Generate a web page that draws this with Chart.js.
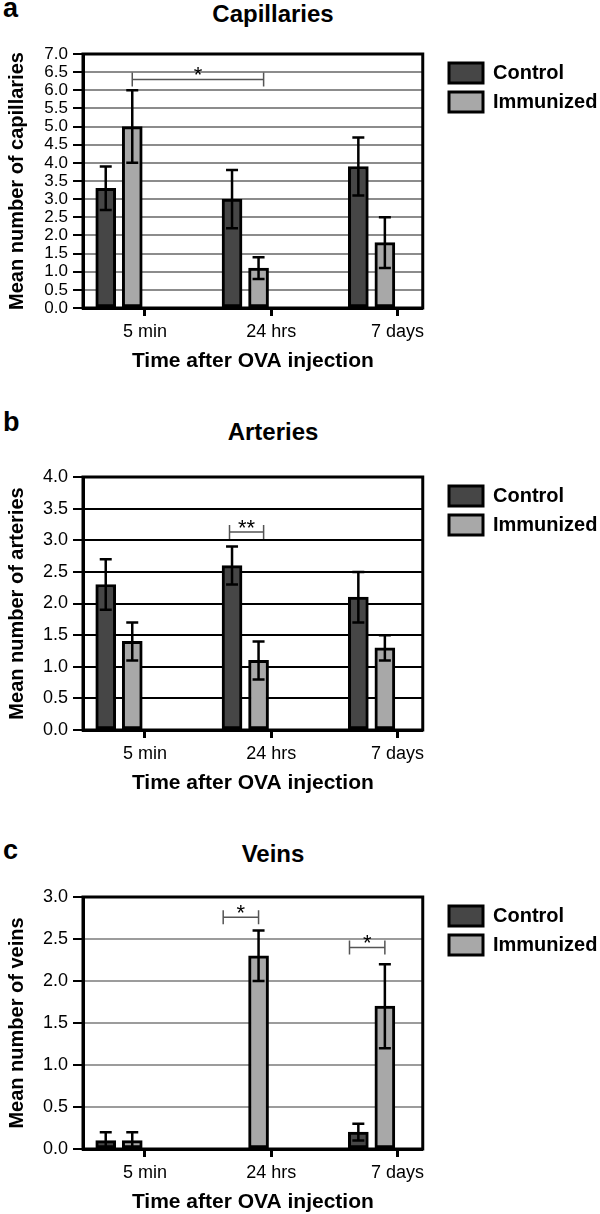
<!DOCTYPE html>
<html lang="en">
<head>
<meta charset="UTF-8">
<title>Capillaries, arteries and veins after OVA injection</title>
<style>
    body { margin: 0; background: #fff; font-family: "Liberation Sans", Arial, sans-serif; color: #000; }
    .page { position: relative; width: 600px; height: 1214px; overflow: hidden; }
    .letter { position: absolute; left: 3px; font-size: 27px; font-weight: bold; line-height: 27px; }
    .title { position: absolute; left: 163px; width: 220px; text-align: center; font-size: 24px; font-weight: bold; line-height: 24px; }
    canvas { position: absolute; left: 0; }
</style>
</head>
<body>
<div class="page">
    <div class="letter" style="top:-5px">a</div>
    <div class="title" style="top:2px">Capillaries</div>
    <canvas id="capChart" width="600" height="390" style="top:0px"></canvas>

    <div class="letter" style="top:409px">b</div>
    <div class="title" style="top:420px">Arteries</div>
    <canvas id="artChart" width="600" height="420" style="top:390px"></canvas>

    <div class="letter" style="top:837px">c</div>
    <div class="title" style="top:842px">Veins</div>
    <canvas id="veinChart" width="600" height="404" style="top:810px"></canvas>
</div>

<script src="https://cdn.jsdelivr.net/npm/chart.js"></script>
<script>
// categories and series
const categories = ['5 min', '24 hrs', '7 days'];
const seriesNames = ['Control', 'Immunized'];

// a - capillaries (mean and error)
const capControl = [3.3, 3.0, 3.9];
const capControlErr = [0.6, 0.8, 0.8];
const capImmunized = [5.0, 1.1, 1.8];
const capImmunizedErr = [1.0, 0.3, 0.7];

// b - arteries
const artControl = [2.3, 2.6, 2.1];
const artControlErr = [0.4, 0.3, 0.4];
const artImmunized = [1.4, 1.1, 1.3];
const artImmunizedErr = [0.3, 0.3, 0.2];

// c - veins
const veinControl = [0.1, 0, 0.2];
const veinControlErr = [0.1, 0, 0.1];
const veinImmunized = [0.1, 2.3, 1.7];
const veinImmunizedErr = [0.1, 0.3, 0.5];

// significance brackets (x in category units, level in y units)
const capSignificance = [{ from: -0.1, to: 0.94, level: 6.3, label: '*' }];
const artSignificance = [{ from: 0.67, to: 0.94, level: 3.13, label: '**' }];
const veinSignificance = [
    { from: 0.62, to: 0.9, level: 2.76, label: '*' },
    { from: 1.62, to: 1.9, level: 2.40, label: '*' }
];

// bars sit to the left of each category tick, like in the original figure
const controlOffset = -0.31;
const immunizedOffset = -0.10;

Chart.defaults.font.family = '"Liberation Sans", Arial, sans-serif';
Chart.defaults.color = '#000';

function toPoints(values, offset) {
    return values.map((v, i) => ({ x: i + offset, y: v }));
}

function makeChart(canvasId, cfg) {
    const errors = [cfg.controlErr, cfg.immunizedErr];

    const plugins = [{
        // move the legend a bit away from the plot and let it use the full width
        id: 'legendShift',
        beforeDraw(chart) {
            chart.legend.left = 440;
            chart.legend.right = 600;
        }
    }, {
        id: 'errorBars',
        afterDatasetsDraw(chart) {
            const ctx = chart.ctx;
            const ys = chart.scales.y;
            ctx.save();
            ctx.strokeStyle = '#000';
            ctx.lineWidth = 2.5;
            chart.data.datasets.forEach((ds, d) => {
                const meta = chart.getDatasetMeta(d);
                ds.data.forEach((pt, i) => {
                    const e = errors[d][i];
                    if (!e) return;
                    const x = meta.data[i].x;
                    const top = ys.getPixelForValue(pt.y + e);
                    const bot = ys.getPixelForValue(Math.max(0, pt.y - e));
                    ctx.beginPath();
                    ctx.moveTo(x, top); ctx.lineTo(x, bot);
                    ctx.moveTo(x - 6, top); ctx.lineTo(x + 6, top);
                    ctx.moveTo(x - 6, bot); ctx.lineTo(x + 6, bot);
                    ctx.stroke();
                });
            });
            ctx.restore();
        }
    }, {
        id: 'frameAndBrackets',
        afterDraw(chart) {
            const ctx = chart.ctx;
            const a = chart.chartArea;
            const xs = chart.scales.x, ys = chart.scales.y;
            ctx.save();
            // box round the plot
            ctx.strokeStyle = '#000';
            ctx.lineWidth = 3;
            ctx.strokeRect(a.left, a.top, a.right - a.left, a.bottom - a.top);
            // significance brackets
            cfg.significance.forEach(b => {
                const x0 = xs.getPixelForValue(b.from);
                const x1 = xs.getPixelForValue(b.to);
                const y = ys.getPixelForValue(b.level);
                ctx.strokeStyle = '#555';
                ctx.lineWidth = 1.5;
                ctx.beginPath();
                ctx.moveTo(x0, y); ctx.lineTo(x1, y);
                ctx.moveTo(x0, y - 7); ctx.lineTo(x0, y + 7);
                ctx.moveTo(x1, y - 7); ctx.lineTo(x1, y + 7);
                ctx.stroke();
                ctx.fillStyle = '#000';
                ctx.font = '22px "Liberation Sans", Arial, sans-serif';
                ctx.textAlign = 'center';
                ctx.textBaseline = 'alphabetic';
                ctx.fillText(b.label, (x0 + x1) / 2, y + 3);
            });
            ctx.restore();
        }
    }];

    return new Chart(document.getElementById(canvasId), {
        type: 'bar',
        data: {
            datasets: [{
                label: seriesNames[0],
                data: toPoints(cfg.control, controlOffset),
                backgroundColor: '#464646',
                borderColor: '#000',
                borderWidth: 3,
                borderSkipped: false,
                grouped: false,
                barThickness: 20,
                maxBarThickness: 20
            }, {
                label: seriesNames[1],
                data: toPoints(cfg.immunized, immunizedOffset),
                backgroundColor: '#a8a8a8',
                borderColor: '#000',
                borderWidth: 3,
                borderSkipped: false,
                grouped: false,
                barThickness: 20,
                maxBarThickness: 20
            }]
        },
        options: {
            responsive: false,
            animation: false,
            layout: { padding: { top: cfg.padTop, bottom: cfg.padBottom, left: 5, right: 38 } },
            plugins: {
                tooltip: { enabled: false },
                legend: {
                    position: 'right',
                    align: 'start',
                    labels: {
                        boxWidth: 34,
                        boxHeight: 20,
                        padding: 9,
                        color: '#000',
                        font: { size: 20, weight: 'bold' }
                    }
                }
            },
            scales: {
                x: {
                    type: 'linear',
                    min: -0.49,
                    max: 2.2,
                    offset: false,
                    afterBuildTicks: s => { s.ticks = categories.map((c, i) => ({ value: i })); },
                    afterFit: s => { s.height = 64; },
                    ticks: {
                        callback: v => categories[v],
                        font: { size: 18 },
                        color: '#000',
                        padding: 5,
                        maxRotation: 0,
                        autoSkip: false
                    },
                    grid: { drawOnChartArea: false, offset: false, tickLength: 8, tickWidth: 3, tickColor: '#000' },
                    border: { width: 3, color: '#000' },
                    title: {
                        display: true,
                        text: 'Time after OVA injection',
                        color: '#000',
                        padding: 0,
                        font: { size: 21, weight: 'bold', lineHeight: 1 }
                    }
                },
                y: {
                    min: 0,
                    max: cfg.yMax,
                    afterFit: s => { s.width = 78; },
                    ticks: {
                        stepSize: 0.5,
                        autoSkip: false,
                        callback: v => v.toFixed(1),
                        font: { size: cfg.tickSize },
                        color: '#000',
                        padding: 5
                    },
                    grid: { color: cfg.gridColor, lineWidth: 2, tickLength: 10, tickWidth: 2, tickColor: '#000' },
                    border: { width: 3, color: '#000' },
                    title: {
                        display: true,
                        text: cfg.yTitle,
                        color: '#000',
                        padding: 0,
                        font: { size: 20, weight: 'bold', lineHeight: 1.2 }
                    }
                }
            }
        },
        plugins: plugins
    });
}

makeChart('capChart', {
    control: capControl, controlErr: capControlErr,
    immunized: capImmunized, immunizedErr: capImmunizedErr,
    significance: capSignificance,
    yMax: 7, yTitle: 'Mean number of capillaries',
    gridColor: '#8c8c8c', tickSize: 17,
    padTop: 54, padBottom: 18
});

makeChart('artChart', {
    control: artControl, controlErr: artControlErr,
    immunized: artImmunized, immunizedErr: artImmunizedErr,
    significance: artSignificance,
    yMax: 4, yTitle: 'Mean number of arteries',
    gridColor: '#000', tickSize: 18,
    padTop: 87, padBottom: 16
});

makeChart('veinChart', {
    control: veinControl, controlErr: veinControlErr,
    immunized: veinImmunized, immunizedErr: veinImmunizedErr,
    significance: veinSignificance,
    yMax: 3, yTitle: 'Mean number of veins',
    gridColor: '#9c9c9c', tickSize: 18,
    padTop: 87, padBottom: 1
});
</script>
</body>
</html>
